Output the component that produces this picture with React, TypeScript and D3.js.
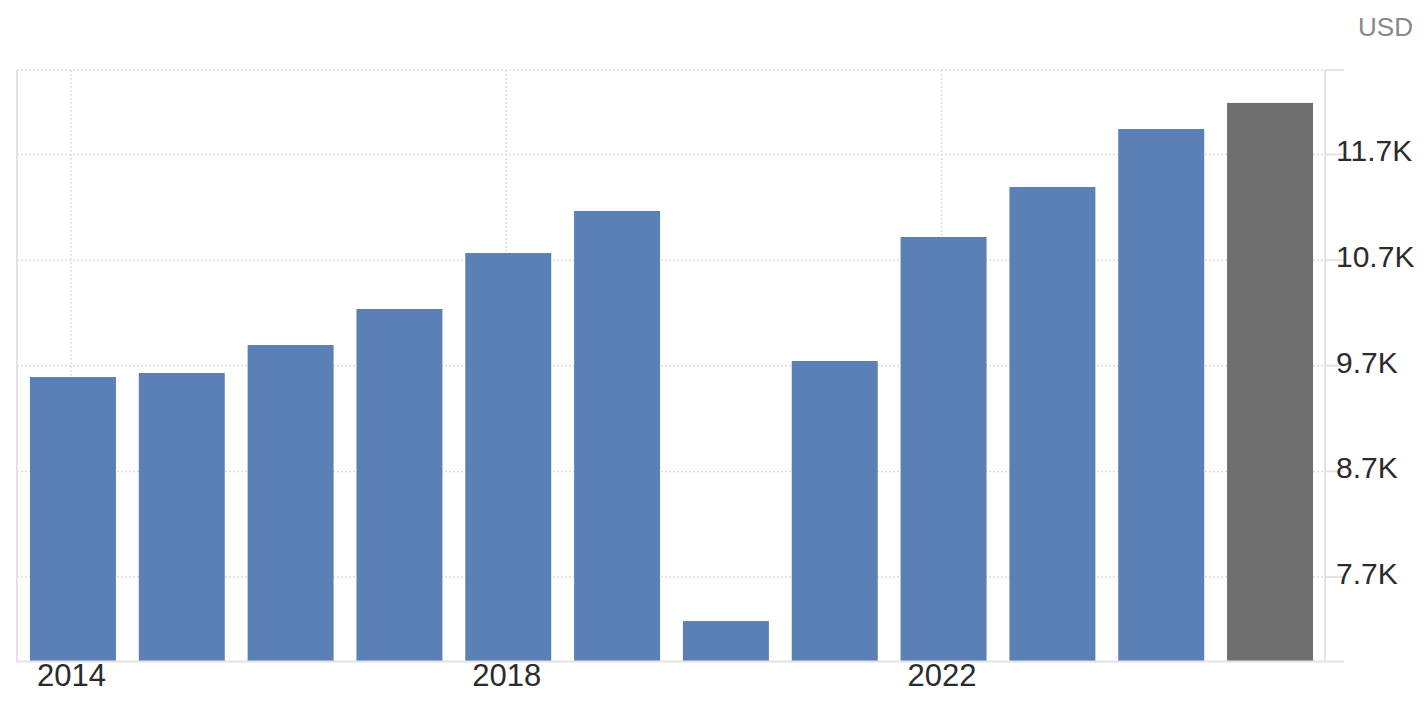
import React, { useEffect, useRef } from 'react';
import * as d3 from 'd3';

const years = ['2014', '2015', '2016', '2017', '2018', '2019', '2020', '2021', '2022', '2023', '2024', '2025'];
const values = [9593, 9631, 9896, 10237, 10767, 11165, 7283, 9745, 10919, 11392, 11941, 12188];
const forecastYears = ['2025'];
const yTicks = [7700, 8700, 9700, 10700, 11700];
const xTickYears = ['2014', '2018', '2022'];
const unit = 'USD';

export default () => {
  const svgRef = useRef<SVGSVGElement>(null);

  useEffect(() => {
    if (!svgRef.current) {
      return;
    }
    const width = 1424;
    const height = 708;
    const left = 18;
    const right = 1325;
    const top = 70;
    const bottom = 661.5;
    const font = '"Liberation Sans", Arial, sans-serif';

    const svg = d3.select(svgRef.current)
      .attr('width', width)
      .attr('height', height);
    svg.selectAll('*').remove();

    const x = d3.scaleBand()
      .domain(years)
      .range([left, right])
      .paddingInner(0.21)
      .paddingOuter(0.11);

    const y = d3.scaleLinear()
      .domain([6900, 12500])
      .range([bottom, top]);

    // grid
    const grid = svg.append('g');
    grid.selectAll('line.h')
      .data([...yTicks, y.domain()[1]])
      .enter()
      .append('line')
      .attr('x1', left - 1)
      .attr('x2', right)
      .attr('y1', d => y(d))
      .attr('y2', d => y(d))
      .attr('stroke', '#dcdcdc')
      .attr('stroke-width', 1.5)
      .attr('stroke-dasharray', '2,2');

    grid.selectAll('line.v')
      .data(xTickYears)
      .enter()
      .append('line')
      .attr('x1', d => (x(d) || 0) + x.bandwidth() / 2 - 2)
      .attr('x2', d => (x(d) || 0) + x.bandwidth() / 2 - 2)
      .attr('y1', top)
      .attr('y2', bottom)
      .attr('stroke', '#dcdcdc')
      .attr('stroke-width', 1.5)
      .attr('stroke-dasharray', '2,2');

    // bars
    svg.append('g')
      .selectAll('rect')
      .data(years)
      .enter()
      .append('rect')
      .attr('x', d => x(d) || 0)
      .attr('width', x.bandwidth())
      .attr('y', (d, i) => y(values[i]))
      .attr('height', (d, i) => bottom - y(values[i]))
      .attr('fill', d => (forecastYears.includes(d) ? '#6f6f6f' : '#5a80b6'));

    // axis lines
    const axis = svg.append('g')
      .attr('stroke', '#e3e3e3')
      .attr('stroke-width', 2);
    axis.append('line')
      .attr('x1', left - 1).attr('x2', left - 1)
      .attr('y1', top).attr('y2', bottom);
    axis.append('line')
      .attr('x1', left - 2).attr('x2', right + 19)
      .attr('y1', bottom).attr('y2', bottom);
    axis.append('line')
      .attr('x1', right).attr('x2', right)
      .attr('y1', top).attr('y2', bottom);
    axis.selectAll('line.tick')
      .data([...yTicks, y.domain()[1]])
      .enter()
      .append('line')
      .attr('x1', right)
      .attr('x2', right + 19)
      .attr('y1', d => y(d))
      .attr('y2', d => y(d));

    // y labels
    svg.append('g')
      .selectAll('text')
      .data(yTicks)
      .enter()
      .append('text')
      .attr('x', right + 11)
      .attr('y', d => y(d))
      .attr('dy', '0.23em')
      .attr('fill', '#2b2b2b')
      .style('font-family', font)
      .style('font-size', '30px')
      .text(d => `${d3.format('.1f')(d / 1000)}K`);

    // x labels
    svg.append('g')
      .selectAll('text')
      .data(xTickYears)
      .enter()
      .append('text')
      .attr('x', d => (x(d) || 0) + x.bandwidth() / 2 - 1.5)
      .attr('y', bottom + 24.5)
      .attr('text-anchor', 'middle')
      .attr('fill', '#2b2b2b')
      .style('font-family', font)
      .style('font-size', '31px')
      .text(d => d);

    svg.append('text')
      .attr('x', 1413)
      .attr('y', 36)
      .attr('text-anchor', 'end')
      .attr('fill', '#888')
      .style('font-family', font)
      .style('font-size', '26px')
      .text(unit);
  }, []);

  return (
    <svg ref={svgRef} style={{ position: 'absolute', left: 0, top: 0, display: 'block', background: '#fff' }} />
  );
}
